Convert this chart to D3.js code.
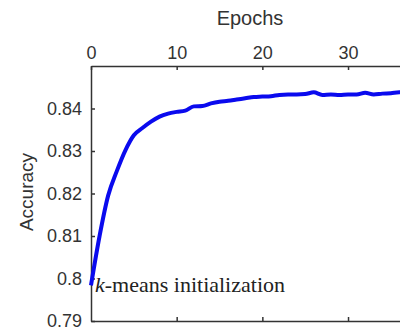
<!DOCTYPE html>
<html>
<head>
<meta charset="utf-8">
<script src="https://cdn.jsdelivr.net/npm/d3@7"></script>
<style>
  body { margin: 0; background: #fff; }
  svg { display: block; }
  .tick text { font-family: "Liberation Sans", Arial, sans-serif; font-size: 18px; fill: #333; }
</style>
</head>
<body>
<svg id="chart" width="400" height="330"></svg>
<script>
// epochs and accuracy
const epochs = [0, 1, 2, 3, 4, 5, 6, 7, 8, 9, 10, 11, 12, 13, 14, 15, 16, 17, 18,
  19, 20, 21, 22, 23, 24, 25, 26, 27, 28, 29, 30, 31, 32, 33, 34, 35, 36, 37];
const accuracy = [0.7984, 0.8100, 0.8195, 0.8252, 0.8301, 0.8337, 0.8354, 0.8369,
  0.8381, 0.8388, 0.8392, 0.8395, 0.8405, 0.8406, 0.8412, 0.8416, 0.8418, 0.8421,
  0.8424, 0.8427, 0.8428, 0.8429, 0.8432, 0.8433, 0.8433, 0.8434, 0.8438, 0.8432,
  0.8433, 0.8432, 0.8433, 0.8433, 0.8437, 0.8433, 0.8435, 0.8436, 0.8438, 0.8438];
const xTicks = [0, 10, 20, 30];
const yTicks = [0.79, 0.8, 0.81, 0.82, 0.83, 0.84];

const svg = d3.select("#chart");
const plotL = 91, plotR = 408, plotT = 66, plotB = 321;

const x = d3.scaleLinear().domain([0, 37]).range([plotL, plotR]);
const y = d3.scaleLinear().domain([0.79, 0.85]).range([plotB, plotT]);

// top axis with labels
const gTop = svg.append("g")
  .attr("transform", `translate(0,${plotT})`)
  .call(d3.axisTop(x).tickValues(xTicks).tickSize(-4).tickSizeOuter(0).tickPadding(7));

// bottom axis, ticks only
const gBot = svg.append("g")
  .attr("transform", `translate(0,${plotB})`)
  .call(d3.axisBottom(x).tickValues(xTicks.slice(1)).tickSize(-4).tickSizeOuter(0).tickFormat(""));

// left axis
const gLeft = svg.append("g")
  .attr("transform", `translate(${plotL},0)`)
  .call(d3.axisLeft(y).tickValues(yTicks).tickSize(-4).tickSizeOuter(0).tickPadding(9)
    .tickFormat(d => String(+d.toFixed(2))));

[gTop, gBot, gLeft].forEach(g => {
  g.select(".domain").attr("stroke", "#333").attr("stroke-width", 1.5);
  g.selectAll(".tick line").attr("stroke", "#333").attr("stroke-width", 1.5);
});

// axis titles
svg.append("text")
  .attr("x", 250).attr("y", 25)
  .attr("text-anchor", "middle")
  .style("font-family", "Liberation Sans, Arial, sans-serif")
  .style("font-size", "20px").attr("fill", "#333")
  .text("Epochs");

svg.append("text")
  .attr("transform", "translate(33,192) rotate(-90)")
  .attr("text-anchor", "middle")
  .style("font-family", "Liberation Sans, Arial, sans-serif")
  .style("font-size", "19px").attr("fill", "#333")
  .text("Accuracy");

// curve
const line = d3.line()
  .x((d, i) => x(epochs[i]))
  .y(d => y(d))
  .curve(d3.curveMonotoneX);

svg.append("path")
  .datum(accuracy)
  .attr("fill", "none")
  .attr("stroke", "#0a0aee")
  .attr("stroke-width", 4)
  .attr("stroke-linejoin", "round")
  .attr("d", line);

// annotation
const note = svg.append("text")
  .attr("x", 95).attr("y", 292)
  .style("font-family", "Liberation Serif, 'Times New Roman', serif")
  .style("font-size", "22px").attr("fill", "#222");
note.append("tspan").style("font-style", "italic").text("k");
note.append("tspan").text("-means initialization");
</script>
</body>
</html>
